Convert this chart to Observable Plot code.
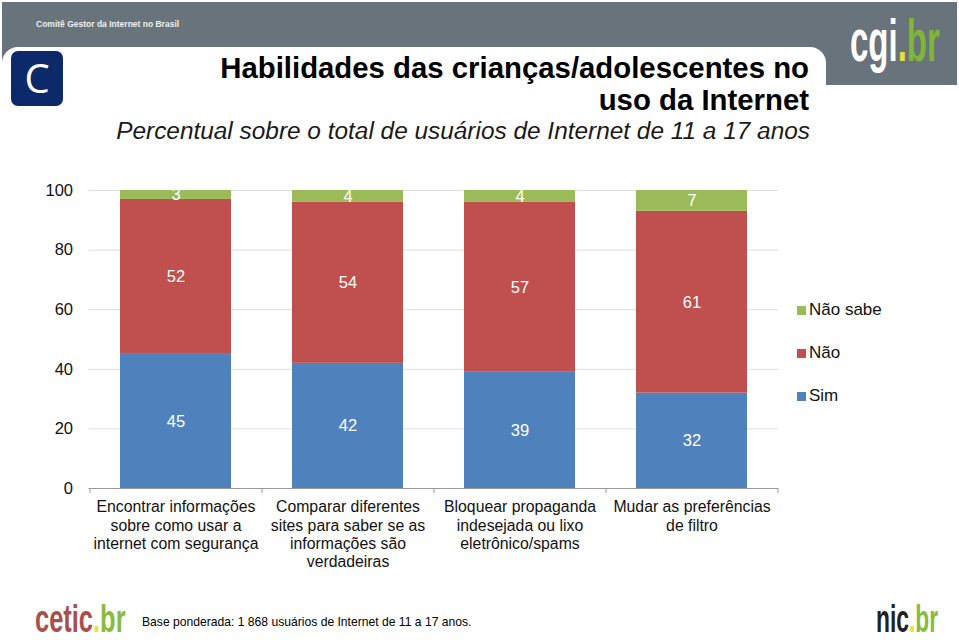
<!DOCTYPE html>
<html lang="pt-BR">
<head>
<meta charset="utf-8">
<script src="https://cdn.jsdelivr.net/npm/d3@7"></script>
<script src="https://cdn.jsdelivr.net/npm/@observablehq/plot@0.6"></script>
<style>
html,body{margin:0;padding:0;background:#fff;font-family:"Liberation Sans",Arial,sans-serif}
#page{position:relative;width:959px;height:640px;overflow:hidden}
#page>div{position:absolute;white-space:nowrap}
.band{left:2px;top:2px;width:955px;height:83px;background:#69737b}
.tab{left:2px;top:47px;width:824px;height:60px;background:#fff;border-radius:16px 16px 0 0}
.badge{left:11px;top:51px;width:52px;height:55px;background:#0c2a69;border-radius:7px;color:#fff;font:40px/54px "Open Sans",sans-serif;text-align:center}
.org{left:36px;top:17px;color:#eef0f1;font:bold 8.5px/14px "Liberation Sans",sans-serif}
.title{right:150px;top:52px;text-align:right;color:#000;font:bold 29.35px/32px "Liberation Sans",sans-serif}
.sub{right:149px;top:116px;color:#1a1a1a;font:italic 24.4px/30px "Liberation Sans",sans-serif}
.logo{font-family:"Liberation Sans",sans-serif;font-weight:bold;transform-origin:0 0}
.foot{left:142px;top:614px;color:#000;font:12.13px/16px "Liberation Sans",sans-serif}
.sw{width:9px;height:9px}
.lg{left:809px;color:#111;font:17px/20px "Liberation Sans",sans-serif}
</style>
</head>
<body>
<div id="page"></div>
<script>
const categories = [
  "Encontrar informações\nsobre como usar a\ninternet com segurança",
  "Comparar diferentes\nsites para saber se as\ninformações são\nverdadeiras",
  "Bloquear propaganda\nindesejada ou lixo\neletrônico/spams",
  "Mudar as preferências\nde filtro"
];
const seriesNames = ["Sim", "Não", "Não sabe"];
const seriesColors = ["#4f81bd", "#c0504d", "#9bbb59"];
const sim = [45, 42, 39, 32];
const nao = [52, 54, 57, 61];
const naoSabe = [3, 4, 4, 7];
const yTicks = [0, 20, 40, 60, 80, 100];
const title = ["Habilidades das crianças/adolescentes no", "uso da Internet"];
const subtitle = "Percentual sobre o total de usuários de Internet de 11 a 17 anos";
const footnote = "Base ponderada: 1 868 usuários de Internet de 11 a 17 anos.";

const rows = [sim, nao, naoSabe].flatMap((vals, s) =>
  vals.map((value, i) => ({category: categories[i], series: seriesNames[s], value})));

const chart = Plot.plot({
  width: 959, height: 640,
  marginLeft: 88.5, marginRight: 181, marginTop: 190, marginBottom: 152,
  style: {background: "transparent", fontFamily: "Liberation Sans, Arial, sans-serif"},
  x: {domain: categories, paddingInner: 0.355, paddingOuter: 0.1775, align: 0.5, label: null},
  y: {domain: [0, 100], label: null},
  color: {domain: seriesNames, range: seriesColors},
  marks: [
    Plot.ruleY(yTicks.slice(1), {stroke: "#dedede", strokeWidth: 1}),
    Plot.barY(rows, {x: "category", y: "value", fill: "series", order: seriesNames}),
    Plot.text(rows, Plot.stackY({x: "category", y: "value", order: seriesNames, text: d => String(d.value),
      z: "series", fill: "#fff", fontSize: 16.5})),
    Plot.ruleY([0], {stroke: "#999", strokeWidth: 1}),
    Plot.ruleX(categories, {x: d => d, y1: 0, y2: -1.7, dx: -86, stroke: "#999"}),
    Plot.ruleX(categories.slice(-1), {x: d => d, y1: 0, y2: -1.7, dx: 86, stroke: "#999"}),
    Plot.axisY({ticks: yTicks, tickSize: 0, tickPadding: 16, fontSize: 16.5, fill: "#111", label: null}),
    Plot.axisX({tickSize: 0, tickPadding: 11, fontSize: 15.8, lineHeight: 1.15, fill: "#111", label: null, lineWidth: 40})
  ]
});
chart.style.position = "absolute";
chart.style.left = "0";
chart.style.top = "0";

const page = document.getElementById("page");
function add(cls, html, style) {
  const d = document.createElement("div");
  d.className = cls;
  if (html) d.innerHTML = html;
  if (style) d.style.cssText = style;
  page.appendChild(d);
}
add("band");
add("tab");
add("badge", "C");
add("org", "Comitê Gestor da Internet no Brasil");
add("logo", '<span style="color:#fff">cgi</span><span style="color:#e6e23a">.</span><span style="color:#7fb539">br</span>',
    "left:850px;top:8px;font-size:60px;line-height:66px;transform:scaleX(.55)");
add("title", title.join("<br>"));
add("sub", subtitle);
page.appendChild(chart);
[["Não sabe", 2, 300], ["Não", 1, 343], ["Sim", 0, 386]].forEach(([name, i, top]) => {
  add("sw", "", `left:797px;top:${top + 6}px;background:${seriesColors[i]}`);
  add("lg", name, `top:${top}px`);
});
add("logo", '<span style="color:#a8504f">cetic</span><span style="color:#e6e23a">.</span><span style="color:#8abb3f">br</span>',
    "left:35px;top:597px;font-size:38px;line-height:44px;transform:scaleX(.67)");
add("logo", '<span style="color:#222">nic</span><span style="color:#e6e23a">.</span><span style="color:#8abb3f">br</span>',
    "left:876px;top:597px;font-size:38px;line-height:44px;transform:scaleX(.6)");
add("foot", footnote);
</script>
</body>
</html>
